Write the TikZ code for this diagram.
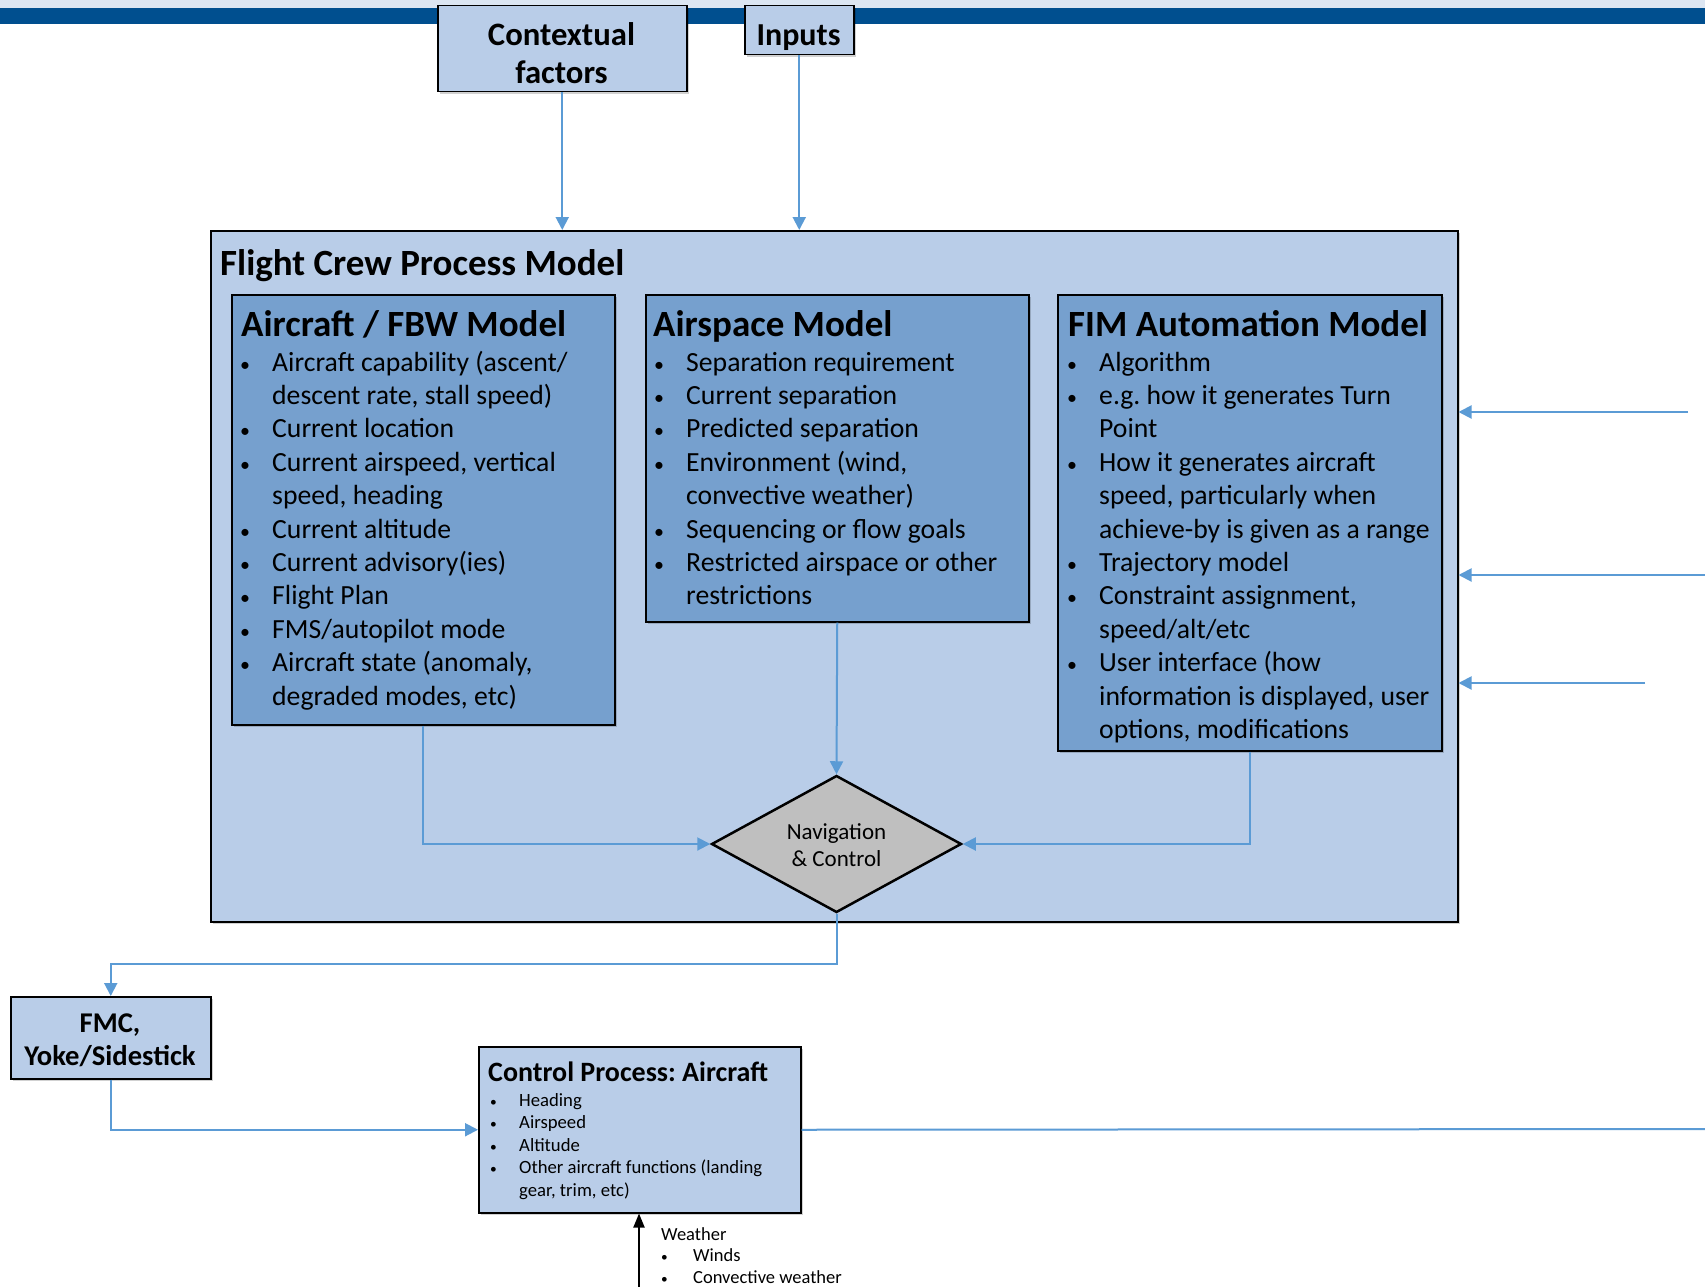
\documentclass[tikz,border=0pt]{standalone}
\usepackage{fontspec}
\setmainfont{Carlito}
\usetikzlibrary{arrows.meta,shapes.geometric,shadows,calc}

\definecolor{barDark}{HTML}{004F8F}
\definecolor{barLight}{HTML}{DCE6F2}
\definecolor{paleBlue}{HTML}{B9CDE8}
\definecolor{midBlue}{HTML}{76A0CE}
\definecolor{linkBlue}{HTML}{5B9BD5}
\definecolor{navGray}{HTML}{BFBFBF}

\frenchspacing

% bullet list helpers: \li starts an item, \lc continues it on a new line
\newlength\bulw
\setlength\bulw{32pt}
\newcommand\li[1]{\makebox[\bulw][l]{\scalebox{0.72}{\textbullet}}#1}
\newcommand\lc[1]{\hspace*{\bulw}#1}

\tikzset{
  panel/.style={draw=black, line width=1.5pt, inner sep=0pt, anchor=north west,
    drop shadow={shadow xshift=2pt, shadow yshift=-2pt, opacity=0.18, fill=black}},
  outerbox/.style={panel, fill=paleBlue},
  innerbox/.style={panel, fill=midBlue},
  headtxt/.style={inner sep=0pt, anchor=base west, font=\bfseries\fontsize{37}{44}\selectfont},
  listtxt/.style={inner sep=0pt, anchor=base west, font=\fontsize{27.7}{33.4}\selectfont},
  smalllist/.style={inner sep=0pt, anchor=base west, font=\fontsize{18.7}{22.6}\selectfont},
  link/.style={draw=linkBlue, line width=2pt, -{Triangle[length=13pt,width=13pt]}},
  plainlink/.style={draw=linkBlue, line width=2pt},
}

\begin{document}
\begin{tikzpicture}[x=1pt,y=-1pt]
\useasboundingbox (0,0) rectangle (1705,1287);
\fill[white] (0,0) rectangle (1705,1287);

% banner across the top
\fill[barLight] (0,0) rectangle (1705,8);
\fill[barDark] (0,8) rectangle (1705,24);

% boxes
\node[outerbox, minimum width=1247pt, minimum height=691pt] (fcpm) at (210,230) {};
\node[innerbox, minimum width=383pt, minimum height=430pt] (acm) at (231,294) {};
\node[innerbox, minimum width=383pt, minimum height=327pt] (asm) at (645,294) {};
\node[innerbox, minimum width=384pt, minimum height=456pt] (fim) at (1057,294) {};
\node[outerbox, minimum width=249pt, minimum height=86pt] (ctx) at (437,5) {};
\node[outerbox, minimum width=109pt, minimum height=49pt] (inp) at (744,5) {};
\node[outerbox, minimum width=200pt, minimum height=82pt] (fmc) at (10,996) {};
\node[outerbox, minimum width=322pt, minimum height=166pt] (ctrl) at (478,1046) {};
\node[diamond, draw=black, line width=2.5pt, fill=navGray, inner sep=0pt,
      aspect=1.82, minimum width=250pt, minimum height=137pt] (nav) at (836.5,844) {};

% box texts
\node[inner sep=0pt, anchor=base, font=\bfseries\fontsize{32.7}{38}\selectfont] (ctxT) at (561.5,45.5)
  {\parbox[t]{240pt}{\centering Contextual\\factors}};
\node[inner sep=0pt, anchor=base, font=\bfseries\fontsize{32}{38}\selectfont] (inpT) at (798.5,45.5) {Inputs};
\node[inner sep=0pt, anchor=base, font=\bfseries\fontsize{28.6}{33}\selectfont] (fmcT) at (110,1032)
  {\parbox[t]{196pt}{\centering FMC,\\Yoke/Sidestick}};
\node[inner sep=0pt, anchor=base, font=\fontsize{23}{27}\selectfont] (navT) at (836.5,839.5)
  {\parbox[t]{150pt}{\centering Navigation\\\&\ Control}};

\node[headtxt] (fcpmT) at (220,275) {Flight Crew Process Model};
\node[headtxt] (acmT) at (241,336) {Aircraft / FBW Model};
\node[headtxt] (asmT) at (653,336) {Airspace Model};
\node[headtxt] (fimT) at (1068,336) {FIM Automation Model};

\node[listtxt] (acmL) at (240,371) {\parbox[t]{372pt}{\raggedright
  \li{Aircraft capability (ascent/}\\
  \lc{descent rate, stall speed)}\\
  \li{Current location}\\
  \li{Current airspeed, vertical}\\
  \lc{speed, heading}\\
  \li{Current altitude}\\
  \li{Current advisory(ies)}\\
  \li{Flight Plan}\\
  \li{FMS/autopilot mode}\\
  \li{Aircraft state (anomaly,}\\
  \lc{degraded modes, etc)}}};

\node[listtxt] (asmL) at (654,371) {\parbox[t]{372pt}{\raggedright
  \li{Separation requirement}\\
  \li{Current separation}\\
  \li{Predicted separation}\\
  \li{Environment (wind,}\\
  \lc{convective weather)}\\
  \li{Sequencing or flow goals}\\
  \li{Restricted airspace or other}\\
  \lc{restrictions}}};

\node[listtxt] (fimL) at (1067,371) {\parbox[t]{372pt}{\raggedright
  \li{Algorithm}\\
  \li{e.g. how it generates Turn}\\
  \lc{Point}\\
  \li{How it generates aircraft}\\
  \lc{speed, particularly when}\\
  \lc{achieve-by is given as a range}\\
  \li{Trajectory model}\\
  \li{Constraint assignment,}\\
  \lc{speed/alt/etc}\\
  \li{User interface (how}\\
  \lc{information is displayed, user}\\
  \lc{options, modifications}}};

\node[inner sep=0pt, anchor=base west, font=\bfseries\fontsize{28}{30}\selectfont] (ctrlT) at (488,1081)
  {Control Process: Aircraft};
\node[smalllist] (ctrlL) at (490,1106) {\parbox[t]{310pt}{\raggedright\setlength\bulw{29pt}
  \li{Heading}\\
  \li{Airspeed}\\
  \li{Altitude}\\
  \li{Other aircraft functions (landing}\\
  \lc{gear, trim, etc)}}};

\node[smalllist, font=\fontsize{18.5}{21.6}\selectfont] (wxT) at (661,1240) {\parbox[t]{200pt}{\raggedright
  Weather\\
  \li{Winds}\\
  \li{Convective weather}}};

% connectors
\coordinate (inA) at (1688,412);
\coordinate (inB) at (1705,575);
\coordinate (inC) at (1645,683);
\coordinate (outR) at (1705,1129);
\coordinate (wxS) at (639,1292);

\draw[link] (ctx.south) -- (ctx.south |- fcpm.north);
\draw[link] (inp.south) -- (inp.south |- fcpm.north);
\draw[link] (acm.south) |- (nav.west);
\draw[link] (asm.south) -- (nav.north);
\draw[link] (fim.south) |- (nav.east);
\draw[link] (nav.south) -- ++(0,50.5) -| (fmc.north);
\draw[link] (fmc.south) |- (ctrl.west);
\draw[plainlink] (ctrl.east) -- (outR);
\draw[link] (inA) -- (inA -| fcpm.east);
\draw[link] (inB) -- (inB -| fcpm.east);
\draw[link] (inC) -- (inC -| fcpm.east);
\draw[black, line width=2pt, -{Triangle[length=14pt,width=11pt]}] (wxS) -- (wxS |- ctrl.south);
\end{tikzpicture}
\end{document}
